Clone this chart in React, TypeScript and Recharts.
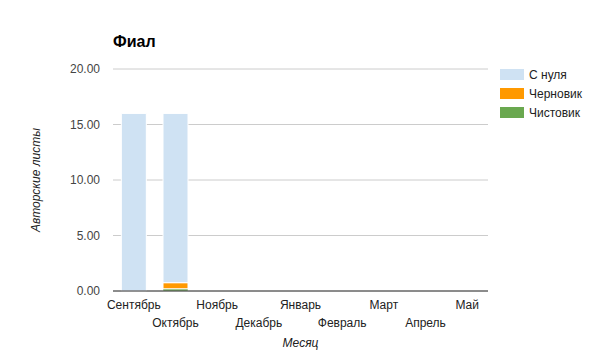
import { BarChart, Bar, XAxis, YAxis, CartesianGrid, ReferenceLine } from "recharts";

const months = ["Сентябрь", "Октябрь", "Ноябрь", "Декабрь", "Январь", "Февраль", "Март", "Апрель", "Май"];
const fromScratch = [16, 15.25, 0, 0, 0, 0, 0, 0, 0];
const draft = [0, 0.55, 0, 0, 0, 0, 0, 0, 0];
const clean = [0, 0.2, 0, 0, 0, 0, 0, 0, 0];
const yTicks = [0, 5, 10, 15, 20];

const series = [
  { key: "clean", name: "Чистовик", color: "#6aa84f" },
  { key: "draft", name: "Черновик", color: "#ff9900" },
  { key: "scratch", name: "С нуля", color: "#cfe2f3" },
];

const data = months.map((m, i) => ({
  month: m,
  scratch: fromScratch[i],
  draft: draft[i],
  clean: clean[i],
}));

const font = "Arial, 'Liberation Sans', sans-serif";

function MonthTick(props: any) {
  const { x, y, payload, index } = props;
  return (
    <text x={x} y={y + (index % 2 === 0 ? 16 : 34)} textAnchor="middle" fontSize={12} fontFamily={font} fill="#222">
      {payload.value}
    </text>
  );
}

function LegendBox() {
  // top of list = top of stack
  const items = [...series].reverse();
  return (
    <div style={{ position: "absolute", left: 500, top: 65, fontFamily: font, fontSize: 12, color: "#222" }}>
      {items.map((s) => (
        <div key={s.key} style={{ display: "flex", alignItems: "center", height: 19 }}>
          <span style={{ width: 24, height: 11, background: s.color, marginRight: 5, display: "inline-block" }} />
          <span>{s.name}</span>
        </div>
      ))}
    </div>
  );
}

export default function App() {
  return (
    <div style={{ position: "absolute", left: 0, top: 0, width: 600, height: 361, background: "#fff" }}>
      <div style={{ position: "absolute", left: 113, top: 33, fontFamily: font, fontSize: 16, fontWeight: "bold", color: "#000" }}>
        Фиал
      </div>
      <BarChart width={600} height={361} data={data} margin={{ top: 69, right: 112, bottom: 10, left: 63 }} barCategoryGap="20%">
        <CartesianGrid vertical={false} stroke="#cccccc" />
        <XAxis
          dataKey="month"
          interval={0}
          tickLine={false}
          tickSize={0}
          axisLine={false}
          height={60}
          tick={<MonthTick />}
          label={{ value: "Месяц", position: "insideBottom", offset: 4, fontStyle: "italic", fontSize: 12, fill: "#222", fontFamily: font }}
        />
        <YAxis
          domain={[0, 20]}
          ticks={yTicks}
          width={50}
          tickLine={false}
          tickSize={0}
          tickMargin={13}
          axisLine={false}
          tickFormatter={(v: number) => v.toFixed(2)}
          tick={{ fontSize: 12, fill: "#444", fontFamily: font }}
          label={{ value: "Авторские листы", angle: -90, position: "insideLeft", offset: -27, fontStyle: "italic", fontSize: 12, fill: "#222", fontFamily: font, style: { textAnchor: "middle" } }}
        />
        {series.map((s) => (
          <Bar
            key={s.key}
            dataKey={s.key}
            name={s.name}
            stackId="a"
            fill={s.color}
            stroke="#fff"
            strokeWidth={s.key === "clean" ? 0.5 : 1}
            isAnimationActive={false}
          />
        ))}
        <ReferenceLine y={0} stroke="#333" strokeWidth={1} />
      </BarChart>
      <LegendBox />
    </div>
  );
}
